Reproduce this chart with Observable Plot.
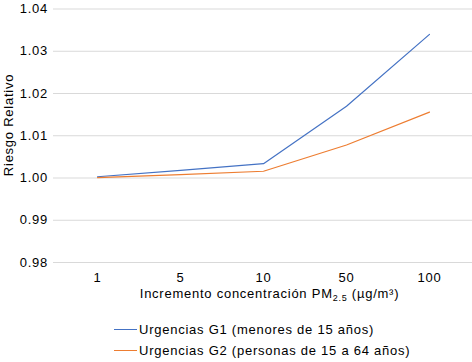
<!DOCTYPE html>
<html>
<head>
<meta charset="utf-8">
<script src="https://cdn.jsdelivr.net/npm/d3@7"></script>
<script src="https://cdn.jsdelivr.net/npm/@observablehq/plot@0.6"></script>
<style>
  html, body { margin: 0; padding: 0; background: #fff; }
  body { width: 472px; height: 362px; overflow: hidden; font-family: "Liberation Sans", Arial, sans-serif; }
  #chart svg { display: block; }
  #legend { padding-top: 9.2px; font-size: 13px; letter-spacing: 0.75px; color: #000; }
  .row { display: flex; align-items: center; height: 20.7px; margin-left: 114px; }
  .sw { width: 23px; height: 0; margin-right: 2px; }
</style>
</head>
<body>
<div id="chart"></div>
<div id="legend"></div>
<script>
const categories = ["1", "5", "10", "50", "100"];
const seriesNames = ["Urgencias G1 (menores de 15 años)", "Urgencias G2 (personas de 15 a 64 años)"];
const g1Values = [1.0003, 1.0018, 1.0034, 1.0170, 1.0340];
const g2Values = [1.0001, 1.0008, 1.0016, 1.0078, 1.0156];
const yTicks = [0.98, 0.99, 1.00, 1.01, 1.02, 1.03, 1.04];
const colors = ["#4472C4", "#ED7D31"];
const xTitleParts = ["Incremento concentración PM", "2.5", " (µg/m³)"];
const yTitle = "Riesgo Relativo";

const g1 = categories.map((c, i) => ({cat: c, value: g1Values[i]}));
const g2 = categories.map((c, i) => ({cat: c, value: g2Values[i]}));
const xTitle = xTitleParts.join("");

const plot = Plot.plot({
  width: 472,
  height: 310,
  marginTop: 8.5,
  marginBottom: 48,
  marginLeft: 53,
  marginRight: 0,
  style: {fontFamily: '"Liberation Sans", Arial, sans-serif', fontSize: "13px", letterSpacing: "0.75px", color: "#000", background: "#fff", overflow: "visible"},
  x: {type: "point", domain: categories, padding: 0.5, label: null},
  y: {domain: [0.98, 1.04], label: null},
  marks: [
    Plot.gridY(yTicks, {stroke: "#d9d9d9", strokeOpacity: 1, strokeWidth: 1}),
    Plot.axisY(yTicks, {tickSize: 0, tickPadding: 5.5, tickFormat: d => d.toFixed(2), label: null}),
    Plot.axisX({tickSize: 0, tickPadding: 10.5, label: null}),
    Plot.line(g1, {x: "cat", y: "value", stroke: colors[0], strokeWidth: 1.2}),
    Plot.line(g2, {x: "cat", y: "value", stroke: colors[1], strokeWidth: 1.2}),
    Plot.text([xTitle], {frameAnchor: "bottom", dy: 35.3, dx: 6.5}),
    Plot.text([yTitle], {frameAnchor: "left", textAnchor: "middle", rotate: -90, dx: -44.9, dy: -10.75})
  ]
});

document.getElementById("chart").appendChild(plot);

// subscript in x title
d3.select(plot).selectAll("text").filter(function() { return this.textContent === xTitle; }).each(function() {
  const t = d3.select(this);
  t.text(null);
  t.append("tspan").text(xTitleParts[0]);
  t.append("tspan").attr("dy", "3").attr("font-size", "9px").text(xTitleParts[1]);
  t.append("tspan").attr("dy", "-3").text(xTitleParts[2]);
});

// legend
const legend = d3.select("#legend");
seriesNames.forEach((name, i) => {
  const row = legend.append("div").attr("class", "row");
  row.append("span").attr("class", "sw").style("border-top", `1.3px solid ${colors[i]}`);
  row.append("span").text(name);
});
</script>
</body>
</html>
